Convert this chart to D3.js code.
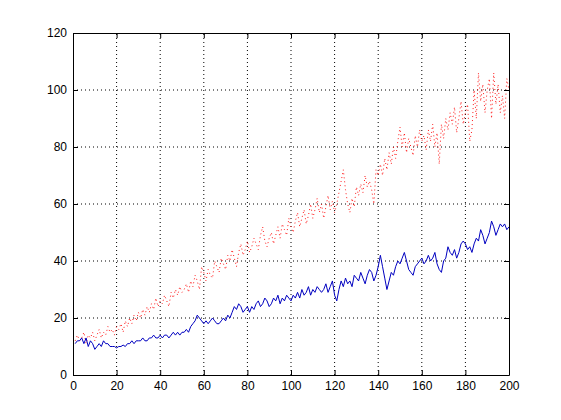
<!DOCTYPE html>
<html><head><meta charset="utf-8">
<script src="https://cdn.jsdelivr.net/npm/d3@7"></script>
<style>body{margin:0;background:#fff}</style>
</head><body><div id="chart"></div>
<script>
var blue = [11,12,12,13,11,13,10,12,11,9,
10,11,10,12,11,11,10,10,10,9.5,
10,10,10.5,10,11,11,12,11,12,12,
12,13,12,12,13,13,14,13,13,14,
13,14,14,13,14,15,14,15,14,15,
15,16,15,17,18,19,21,20,19,18,
19,18,19,20,19,18,18,19,20,19,
21,20,22,24,23,25,24,22,23,24,
22,24,23,25,26,24,25,27,26,24,
25,27,26,28,25,27,26,28,27,26,
28,27,29,27,30,28,29,31,28,30,
29,31,30,29,30,32,29,31,33,28,
26,30,33,31,34,32,33,31,35,34,
33,36,34,32,35,37,36,33,35,38,
42,38,34,30,33,36,35,38,40,39,
41,43,40,37,36,35,38,39,40,41,
39,40,42,40,41,43,39,37,36,40,
41,45,43,42,44,41,43,46,47,46,
44,45,43,46,48,47,51,49,46,48,
50,54,52,49,51,53,52,53,51,52];
var red = [12,14,12,13,15,11,14,13,15,12,
14,16,13,15,14,17,15,16,14,17,
16,18,15,19,17,20,18,21,19,22,
20,23,21,24,22,25,23,27,24,26,
25,28,26,24,29,27,30,28,31,29,
30,32,29,33,31,35,33,30,38,36,
33,37,35,34,40,38,36,41,39,37,
42,40,44,41,38,43,46,42,44,47,
43,45,48,46,44,49,52,47,45,48,
50,46,49,52,48,53,51,49,55,52,
50,54,57,52,55,58,53,56,60,55,
58,62,57,60,55,59,63,58,61,57,
60,64,68,72,65,60,57,62,59,66,
63,67,64,70,66,68,65,60,72,70,
74,70,76,72,78,74,80,76,82,87,
80,85,78,83,80,77,84,80,86,82,
84,79,86,82,88,80,85,74,88,83,
90,86,92,88,94,85,90,96,88,92,
95,82,86,100,90,106,96,102,92,100,
104,90,106,95,102,92,98,90,104,100];
var xTicks = [0,20,40,60,80,100,120,140,160,180,200];
var yTicks = [0,20,40,60,80,100,120];

var W = 561, H = 420;
var m = {left:73, top:33, right:52, bottom:45};
var svg = d3.select("#chart").append("svg").attr("width",W).attr("height",H);
var x = d3.scaleLinear().domain([0,200]).range([m.left, W-m.right]);
var y = d3.scaleLinear().domain([0,120]).range([H-m.bottom, m.top]);

// grid
svg.append("g").selectAll("line").data(xTicks.slice(1,-1)).enter().append("line")
  .attr("x1",d=>x(d)).attr("x2",d=>x(d)).attr("y1",y(0)).attr("y2",y(120))
  .attr("stroke","#000").attr("stroke-dasharray","1,3");
svg.append("g").selectAll("line").data(yTicks.slice(1,-1)).enter().append("line")
  .attr("y1",d=>y(d)).attr("y2",d=>y(d)).attr("x1",x(0)).attr("x2",x(200))
  .attr("stroke","#000").attr("stroke-dasharray","1,3");

var line = d3.line().x((d,i)=>x(i+1)).y(d=>y(d));
svg.append("path").datum(red).attr("d",line).attr("fill","none")
  .attr("stroke","#ff0000").attr("stroke-width",0.9).attr("stroke-dasharray","1,3");
svg.append("path").datum(blue).attr("d",line).attr("fill","none")
  .attr("stroke","#0000c0").attr("stroke-width",1);

// axes, ticks inward
svg.append("g").attr("transform","translate(0,"+y(0)+")")
  .call(d3.axisBottom(x).tickValues(xTicks).tickSizeInner(-5).tickSizeOuter(0).tickPadding(6));
svg.append("g").attr("transform","translate(0,"+y(120)+")")
  .call(d3.axisTop(x).tickValues(xTicks).tickSizeInner(-5).tickSizeOuter(0).tickFormat(""));
svg.append("g").attr("transform","translate("+x(0)+",0)")
  .call(d3.axisLeft(y).tickValues(yTicks).tickSizeInner(-5).tickSizeOuter(0).tickPadding(6));
svg.append("g").attr("transform","translate("+x(200)+",0)")
  .call(d3.axisRight(y).tickValues(yTicks).tickSizeInner(-5).tickSizeOuter(0).tickFormat(""));
svg.selectAll(".domain").attr("stroke","#000");
svg.selectAll(".tick line").attr("stroke","#000");
svg.selectAll(".tick text").attr("font-family","Liberation Sans, Arial, sans-serif")
  .attr("font-size",12).attr("fill","#000");
</script>
</body></html>
